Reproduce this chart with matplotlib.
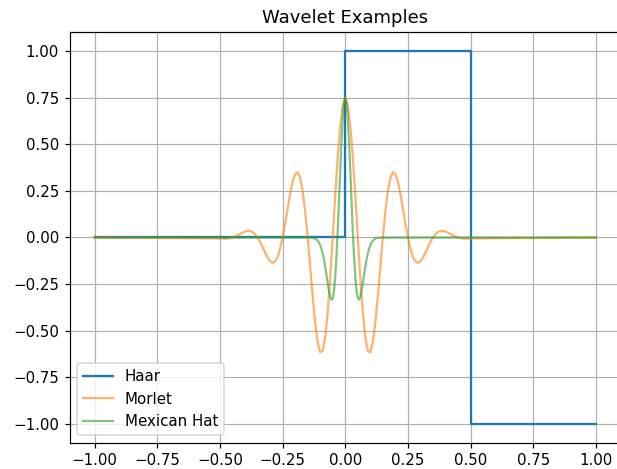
import numpy as np
import matplotlib
matplotlib.use('Agg')
import matplotlib.pyplot as plt

# Haar wavelet (step function)
haar_x = [-1.0, 0.0, 0.0, 0.5, 0.5, 1.0]
haar_y = [0.0, 0.0, 1.0, 1.0, -1.0, -1.0]

# Morlet, every 0.01 on [-0.5, 0.5], flat zero beyond
morlet_y = [
    -0.005, -0.006, -0.006, -0.006, -0.004, 0.000, 0.005, 0.011, 0.019, 0.026,
    0.032, 0.035, 0.035, 0.030, 0.018, 0.000, -0.024, -0.051, -0.080, -0.107,
    -0.127, -0.136, -0.129, -0.105, -0.061, 0.000, 0.074, 0.155, 0.233, 0.299,
    0.341, 0.350, 0.320, 0.249, 0.140, 0.000, -0.157, -0.316, -0.457, -0.562,
    -0.616, -0.608, -0.535, -0.400, -0.216, 0.000, 0.225, 0.433, 0.602, 0.712,
    0.750,
    0.712, 0.602, 0.433, 0.225, 0.000, -0.216, -0.400, -0.535, -0.608, -0.616,
    -0.562, -0.457, -0.316, -0.157, 0.000, 0.140, 0.249, 0.320, 0.350, 0.341,
    0.299, 0.233, 0.155, 0.074, 0.000, -0.061, -0.105, -0.129, -0.136, -0.127,
    -0.107, -0.080, -0.051, -0.024, 0.000, 0.018, 0.030, 0.035, 0.035, 0.032,
    0.026, 0.019, 0.011, 0.005, 0.000, -0.004, -0.006, -0.006, -0.006, -0.005,
]

mexhat_y = [
    0.000, 0.000, -0.001, -0.001, -0.002, -0.004, -0.006, -0.011, -0.017, -0.027,
    -0.041, -0.061, -0.086, -0.119, -0.157, -0.200, -0.245, -0.287, -0.319, -0.334,
    -0.325, -0.286, -0.211, -0.102, 0.037, 0.196, 0.361, 0.514, 0.640, 0.722,
    0.750,
    0.722, 0.640, 0.514, 0.361, 0.196, 0.037, -0.102, -0.211, -0.286, -0.325,
    -0.334, -0.319, -0.287, -0.245, -0.200, -0.157, -0.119, -0.086, -0.061, -0.041,
    -0.027, -0.017, -0.011, -0.006, -0.004, -0.002, -0.001, -0.001, 0.000, 0.000,
]

# sample grids (plus the flat ends at -1 and 1)
morlet_x = np.concatenate(([-1.0], np.linspace(-0.5, 0.5, len(morlet_y)), [1.0]))
mexhat_x = np.concatenate(([-1.0], np.linspace(-0.15, 0.15, len(mexhat_y)), [1.0]))

dpi = 108
fig = plt.figure(figsize=(617 / dpi, 469 / dpi), dpi=dpi)
ax = fig.add_axes([69.5 / 617, 26.5 / 469, 551.5 / 617, 410 / 469])

ax.plot(haar_x, haar_y, label='Haar')
ax.plot(morlet_x, [0.0] + morlet_y + [0.0], label='Morlet', alpha=0.6)
ax.plot(mexhat_x, [0.0] + mexhat_y + [0.0], label='Mexican Hat', alpha=0.6)

ax.set_title('Wavelet Examples')
ax.set_xticks([-1.0, -0.75, -0.5, -0.25, 0.0, 0.25, 0.5, 0.75, 1.0])
ax.set_yticks([-1.0, -0.75, -0.5, -0.25, 0.0, 0.25, 0.5, 0.75, 1.0])
ax.grid()
ax.legend(loc='lower left')

fig.savefig('out.png', dpi=dpi)
